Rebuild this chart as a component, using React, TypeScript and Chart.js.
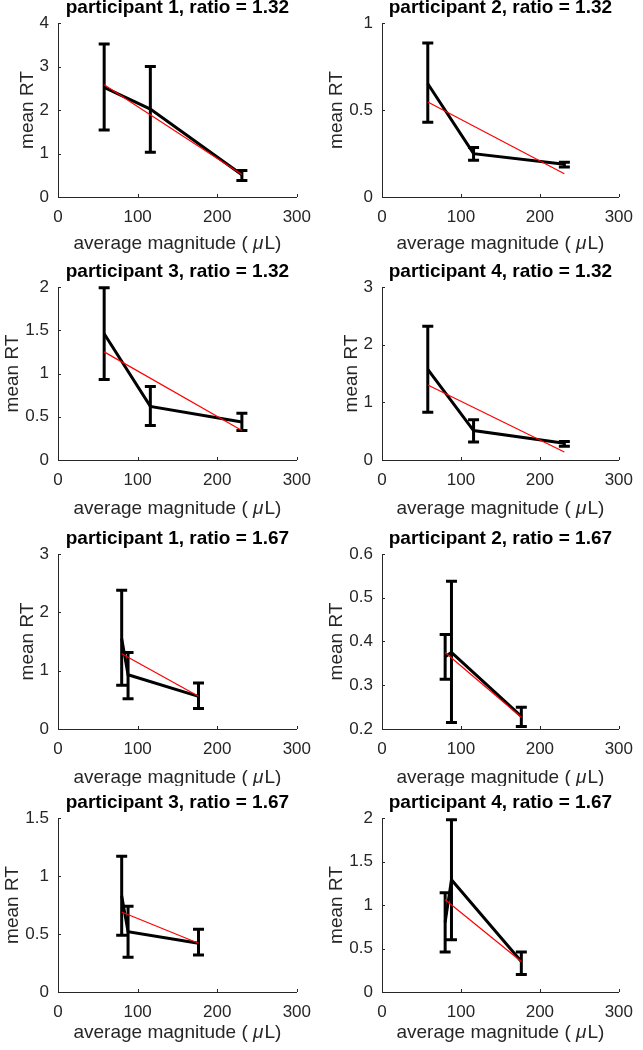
import React, { useEffect, useRef } from "react";
import { Chart, registerables } from "chart.js";

Chart.register(...registerables);

// ---------------- data ----------------
const panelTitles = [
  "participant 1, ratio = 1.32",
  "participant 2, ratio = 1.32",
  "participant 3, ratio = 1.32",
  "participant 4, ratio = 1.32",
  "participant 1, ratio = 1.67",
  "participant 2, ratio = 1.67",
  "participant 3, ratio = 1.67",
  "participant 4, ratio = 1.67",
];

const xAxisLabel = "average magnitude ( ";
const xAxisUnitGreek = "\u03bc";
const xAxisUnitRest = "L)";
const yAxisLabel = "mean RT";

const xTickMin = 0;
const xTickMax = 300;
const xTickStep = 100;

const magnitude132 = [58, 116, 231];
const magnitude167 = [80, 88, 176.5];

// ratio = 1.32
const p1r132Mean = [2.52, 2.02, 0.51];
const p1r132Low = [1.54, 1.03, 0.38];
const p1r132High = [3.52, 3.0, 0.61];
const p1r132Fit = [2.58, 0.52];

const p2r132Mean = [0.651, 0.249, 0.188];
const p2r132Low = [0.429, 0.211, 0.172];
const p2r132High = [0.885, 0.285, 0.2];
const p2r132Fit = [0.546, 0.134];

const p3r132Mean = [1.46, 0.62, 0.44];
const p3r132Low = [0.93, 0.4, 0.34];
const p3r132High = [1.99, 0.85, 0.54];
const p3r132Fit = [1.25, 0.34];

const p4r132Mean = [1.57, 0.51, 0.29];
const p4r132Low = [0.83, 0.31, 0.24];
const p4r132High = [2.32, 0.7, 0.32];
const p4r132Fit = [1.3, 0.14];

// ratio = 1.67
const p1r167Mean = [1.55, 0.93, 0.56];
const p1r167Low = [0.75, 0.52, 0.35];
const p1r167High = [2.38, 1.31, 0.79];
const p1r167Fit = [1.29, 0.56];

const p2r167Mean = [0.365, 0.375, 0.229];
const p2r167Low = [0.314, 0.215, 0.206];
const p2r167High = [0.416, 0.538, 0.25];
const p2r167Fit = [0.375, 0.227];

const p3r167Mean = [0.83, 0.52, 0.42];
const p3r167Low = [0.49, 0.3, 0.32];
const p3r167High = [1.17, 0.74, 0.54];
const p3r167Fit = [0.69, 0.42];

const p4r167Mean = [0.8, 1.29, 0.35];
const p4r167Low = [0.46, 0.6, 0.2];
const p4r167High = [1.14, 1.98, 0.46];
const p4r167Fit = [1.06, 0.35];

// y axis ranges [min, max, step]
const yRanges = [
  [0, 4, 1],
  [0, 1, 0.5],
  [0, 2, 0.5],
  [0, 3, 1],
  [0, 3, 1],
  [0.2, 0.6, 0.1],
  [0, 1.5, 0.5],
  [0, 2, 0.5],
];

const panels = [
  { x: magnitude132, mean: p1r132Mean, lo: p1r132Low, hi: p1r132High, fit: p1r132Fit },
  { x: magnitude132, mean: p2r132Mean, lo: p2r132Low, hi: p2r132High, fit: p2r132Fit },
  { x: magnitude132, mean: p3r132Mean, lo: p3r132Low, hi: p3r132High, fit: p3r132Fit },
  { x: magnitude132, mean: p4r132Mean, lo: p4r132Low, hi: p4r132High, fit: p4r132Fit },
  { x: magnitude167, mean: p1r167Mean, lo: p1r167Low, hi: p1r167High, fit: p1r167Fit },
  { x: magnitude167, mean: p2r167Mean, lo: p2r167Low, hi: p2r167High, fit: p2r167Fit },
  { x: magnitude167, mean: p3r167Mean, lo: p3r167Low, hi: p3r167High, fit: p3r167Fit },
  { x: magnitude167, mean: p4r167Mean, lo: p4r167Low, hi: p4r167High, fit: p4r167Fit },
];

// ---------------- layout ----------------
const FONT = "'Liberation Sans', Arial, Helvetica, sans-serif";
const AXIS_COLOR = "#262626";
const TITLE_SIZE = 19;
const TICK_SIZE = 17;
const LABEL_SIZE = 19;

const colLeft = [0, 321];
const colWidth = [321, 322];
const colPlotLeft = [58, 61];
const colPlotRight = [303, 307];
const rowPlotTop = [23, 287, 554, 818];
const rowPlotHeight = [174, 173, 175, 174];
const rowXLabelBaseline = [52, 54, 54, 46];
const CANVAS_TOP_PAD = 23;
const CANVAS_H = 255;

function fmt(v: number) {
  return String(Math.round(v * 100) / 100);
}

function makeDecor(idx: number, row: number) {
  const p = panels[idx];
  return {
    id: "decor" + idx,
    beforeDatasetsDraw(chart: any) {
      const { ctx } = chart;
      const xs = chart.scales.x;
      const ys = chart.scales.y;
      ctx.save();
      ctx.strokeStyle = "#000";
      ctx.lineWidth = 3;
      ctx.lineCap = "butt";
      p.x.forEach((xv: number, i: number) => {
        const px = xs.getPixelForValue(xv);
        const top = ys.getPixelForValue(p.hi[i]);
        const bot = ys.getPixelForValue(p.lo[i]);
        ctx.beginPath();
        ctx.moveTo(px, top);
        ctx.lineTo(px, bot);
        ctx.moveTo(px - 5.5, top);
        ctx.lineTo(px + 5.5, top);
        ctx.moveTo(px - 5.5, bot);
        ctx.lineTo(px + 5.5, bot);
        ctx.stroke();
      });
      ctx.restore();
    },
    afterDraw(chart: any) {
      const { ctx, chartArea } = chart;
      const xs = chart.scales.x;
      const ys = chart.scales.y;
      ctx.save();
      // inward tick marks
      ctx.strokeStyle = AXIS_COLOR;
      ctx.lineWidth = 1;
      ctx.beginPath();
      xs.ticks.forEach((t: any) => {
        const px = Math.round(xs.getPixelForValue(t.value)) + 0.5;
        ctx.moveTo(px, chartArea.bottom);
        ctx.lineTo(px, chartArea.bottom - 3);
      });
      ys.ticks.forEach((t: any) => {
        const py = Math.round(ys.getPixelForValue(t.value)) + 0.5;
        ctx.moveTo(chartArea.left, py);
        ctx.lineTo(chartArea.left + 3, py);
      });
      ctx.stroke();

      const cx = (chartArea.left + chartArea.right) / 2;
      // title
      ctx.fillStyle = "#000";
      ctx.font = `bold ${TITLE_SIZE}px ${FONT}`;
      ctx.textAlign = "center";
      ctx.textBaseline = "alphabetic";
      ctx.fillText(panelTitles[idx], cx, chartArea.top - 10.5);

      // x label with italic mu
      ctx.fillStyle = AXIS_COLOR;
      const regular = `${LABEL_SIZE}px ${FONT}`;
      const italic = `italic ${LABEL_SIZE}px ${FONT}`;
      ctx.font = regular;
      const w1 = ctx.measureText(xAxisLabel).width;
      const w3 = ctx.measureText(xAxisUnitRest).width;
      ctx.font = italic;
      const w2 = ctx.measureText(xAxisUnitGreek).width;
      const total = w1 + w2 + w3 + 1;
      let sx = cx - total / 2;
      const by = chartArea.bottom + rowXLabelBaseline[row];
      ctx.textAlign = "left";
      ctx.font = regular;
      ctx.fillText(xAxisLabel, sx, by);
      sx += w1;
      ctx.font = italic;
      ctx.fillText(xAxisUnitGreek, sx, by);
      sx += w2 + 1;
      ctx.font = regular;
      ctx.fillText(xAxisUnitRest, sx, by);

      // y label, placed left of the widest tick label
      ctx.font = `${TICK_SIZE}px ${FONT}`;
      let widest = 0;
      ys.ticks.forEach((t: any) => {
        widest = Math.max(widest, ctx.measureText(String(t.label)).width);
      });
      const bx = chartArea.left - 9 - widest - 7;
      const cy = (chartArea.top + chartArea.bottom) / 2;
      ctx.translate(bx, cy);
      ctx.rotate(-Math.PI / 2);
      ctx.font = regular;
      ctx.textAlign = "center";
      ctx.textBaseline = "alphabetic";
      ctx.fillText(yAxisLabel, 0, 0);
      ctx.restore();
    },
  };
}

function Panel({ idx }: { idx: number }) {
  const ref = useRef<HTMLCanvasElement | null>(null);
  const col = idx % 2;
  const row = Math.floor(idx / 2);
  const W = colWidth[col];
  useEffect(() => {
    if (!ref.current) return;
    const p = panels[idx];
    const [yMin, yMax, yStep] = yRanges[idx];
    const plotH = rowPlotHeight[row];
    const chart = new Chart(ref.current, {
      type: "line",
      data: {
        datasets: [
          {
            label: "fit",
            data: [
              { x: p.x[0], y: p.fit[0] },
              { x: p.x[p.x.length - 1], y: p.fit[1] },
            ],
            borderColor: "#ff0000",
            borderWidth: 1.2,
            pointRadius: 0,
            fill: false,
            tension: 0,
          },
          {
            label: "mean",
            data: p.x.map((xv: number, i: number) => ({ x: xv, y: p.mean[i] })),
            borderColor: "#000000",
            borderWidth: 3,
            pointRadius: 0,
            fill: false,
            tension: 0,
            borderJoinStyle: "miter",
          },
        ],
      },
      options: {
        responsive: false,
        animation: false,
        devicePixelRatio: 1,
        layout: {
          padding: {
            left: 0,
            top: CANVAS_TOP_PAD,
            right: W - colPlotRight[col],
            bottom: 0,
          },
        },
        plugins: {
          legend: { display: false },
          title: { display: false },
          tooltip: { enabled: false },
        },
        scales: {
          x: {
            type: "linear",
            min: xTickMin,
            max: xTickMax,
            ticks: {
              stepSize: xTickStep,
              padding: 10,
              color: AXIS_COLOR,
              font: { family: FONT, size: TICK_SIZE },
              maxRotation: 0,
              autoSkip: false,
              callback: (v: any) => fmt(Number(v)),
            },
            grid: { display: false, drawTicks: false },
            border: { display: true, color: AXIS_COLOR, width: 1 },
            afterFit: (s: any) => {
              s.height = CANVAS_H - CANVAS_TOP_PAD - plotH;
            },
          },
          y: {
            type: "linear",
            min: yMin,
            max: yMax,
            ticks: {
              stepSize: yStep,
              padding: 9,
              color: AXIS_COLOR,
              font: { family: FONT, size: TICK_SIZE },
              autoSkip: false,
              callback: (v: any) => fmt(Number(v)),
            },
            grid: { display: false, drawTicks: false },
            border: { display: true, color: AXIS_COLOR, width: 1 },
            afterFit: (s: any) => {
              s.width = colPlotLeft[col];
            },
          },
        },
      },
      plugins: [makeDecor(idx, row)],
    } as any);
    return () => chart.destroy();
  }, [idx]);
  return (
    <div
      style={{
        position: "absolute",
        left: colLeft[col],
        top: rowPlotTop[row] - CANVAS_TOP_PAD,
        width: W,
        height: CANVAS_H,
      }}
    >
      <canvas ref={ref} width={W} height={CANVAS_H} style={{ display: "block" }} />
    </div>
  );
}

export default function App() {
  return (
    <div
      style={{
        position: "absolute",
        left: 0,
        top: 0,
        width: 643,
        height: 1050,
        overflow: "hidden",
        background: "#ffffff",
      }}
    >
      {panels.map((_, i) => (
        <Panel key={i} idx={i} />
      ))}
    </div>
  );
}
